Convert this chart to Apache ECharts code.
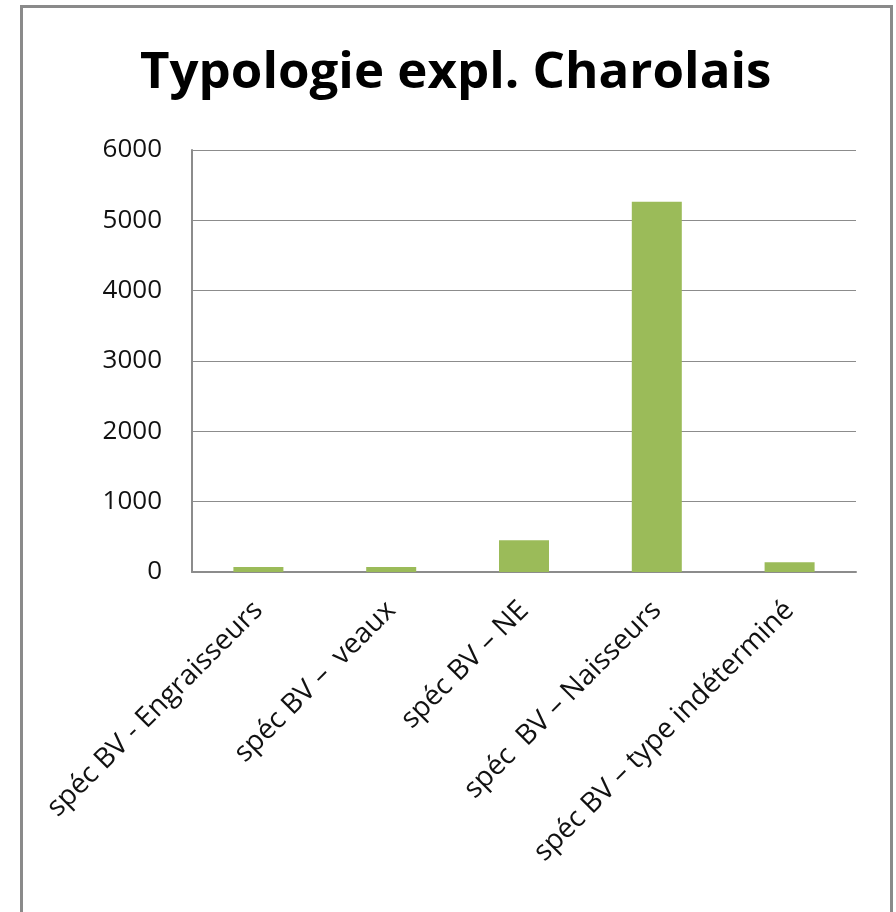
<!DOCTYPE html>
<html>
<head>
<meta charset="utf-8">
<script src="https://cdn.jsdelivr.net/npm/echarts@6/dist/echarts.min.js"></script>
<style>
    html, body { margin: 0; padding: 0; background: #fff; }
    #typologie { width: 896px; height: 912px; }
</style>
</head>
<body>
<div id="typologie"></div>
<script>
    // typologie des exploitations charolaises
    const categories = ['spéc BV - Engraisseurs', 'spéc BV –  veaux', 'spéc BV – NE', 'spéc  BV – Naisseurs', 'spéc BV – type indéterminé']
    const effectifs = [70, 70, 450, 5265, 140]
    const yTicks = [0, 6000, 1000] // min, max, interval

    const chart = echarts.init(document.getElementById('typologie'))
    const option = {
        animation: false,
        title: {
            text: 'Typologie expl. Charolais',
            left: 135,
            top: 43,
            textStyle: {
                fontFamily: 'Open Sans',
                fontWeight: 'bold',
                fontSize: 51,
                color: '#000'
            }
        },
        graphic: [
            {
                type: 'rect',
                shape: {x: 21.5, y: 6.5, width: 870, height: 940},
                style: {fill: 'none', stroke: '#8a8a8a', lineWidth: 3},
                silent: true
            }
        ],
        grid: {
            left: 192,
            right: 40,
            top: 150,
            bottom: 340
        },
        xAxis: {
            type: 'category',
            data: categories,
            axisTick: {show: false},
            axisLine: {lineStyle: {color: '#8c8c8c', width: 2}},
            axisLabel: {
                rotate: 45,
                interval: 0,
                margin: 34,
                fontFamily: 'Open Sans',
                fontSize: 28,
                color: '#111'
            }
        },
        yAxis: {
            type: 'value',
            min: yTicks[0],
            max: yTicks[1],
            interval: yTicks[2],
            axisLine: {show: true, lineStyle: {color: '#8c8c8c', width: 2}},
            axisTick: {show: false},
            splitLine: {lineStyle: {color: '#8c8c8c', width: 1}},
            axisLabel: {
                margin: 30,
                fontFamily: 'Open Sans',
                fontSize: 26,
                color: '#111',
                formatter: v => String(v)
            }
        },
        series: [
            {
                type: 'bar',
                data: effectifs,
                barWidth: 50,
                itemStyle: {color: '#9bbb59'}
            }
        ]
    }
    chart.setOption(option)
</script>
</body>
</html>
